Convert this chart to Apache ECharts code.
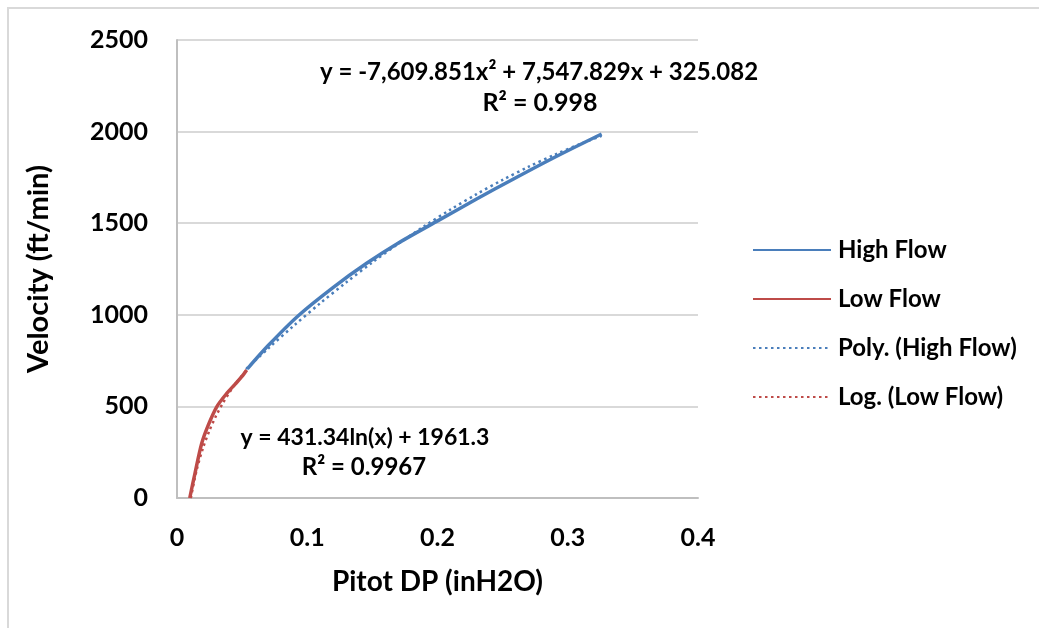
<!DOCTYPE html>
<html>
<head>
<meta charset="utf-8">
<script src="https://cdn.jsdelivr.net/npm/echarts@6/dist/echarts.min.js"></script>
<style>html,body{margin:0;padding:0;background:#fff}#c{width:1039px;height:628px}</style>
</head>
<body>
<div id="c"></div>
<script>
var highFlowX = [0.054, 0.070, 0.0931, 0.120, 0.1456, 0.170, 0.1994, 0.230, 0.258, 0.290, 0.326];
var highFlowY = [705, 832, 995, 1150, 1281, 1392, 1510, 1632, 1740, 1860, 1987];
var lowFlowX = [0.0098, 0.0138, 0.019, 0.024, 0.0305, 0.0382, 0.0445, 0.0497, 0.0535];
var lowFlowY = [0, 135, 299, 398, 498, 571, 620, 662, 699];
// Trendline samples (values of the shown fitted equations)
var polyX = [0.053, 0.07, 0.09, 0.11, 0.13, 0.15, 0.17, 0.19, 0.21, 0.23, 0.25, 0.27, 0.29, 0.31, 0.326];
var polyY = [703.7, 816.1, 942.7, 1063.3, 1177.7, 1286.0, 1388.3, 1484.5, 1574.5, 1658.5, 1736.4, 1808.2, 1874.0, 1933.6, 1976.9];
var logX = [0.0106, 0.015, 0.02, 0.025, 0.03, 0.035, 0.04, 0.045, 0.05, 0.0535];
var logY = [0.0, 149.8, 273.9, 370.1, 448.8, 515.3, 572.9, 623.7, 669.1, 698.3];
var seriesNames = ['High Flow', 'Low Flow', 'Poly. (High Flow)', 'Log. (Low Flow)'];
var polyLabel = ['y = -7,609.851x\u00B2 + 7,547.829x + 325.082', 'R\u00B2 = 0.998'];
var logLabel = ['y = 431.34ln(x) + 1961.3', 'R\u00B2 = 0.9967'];

function pairs(xs, ys) { return xs.map(function (x, i) { return [x, ys[i]]; }); }

var FONT = 'Lato';
var BLUE = '#4A7EBB', RED = '#BE4B48';
var chart = echarts.init(document.getElementById('c'), null, { renderer: 'canvas' });
chart.setOption({
  animation: false,
  backgroundColor: '#fff',
  textStyle: { fontFamily: FONT, fontWeight: 'bold', color: '#000' },
  grid: { left: 177, right: 341, top: 40, bottom: 130 },
  xAxis: {
    type: 'value', min: 0, max: 0.4, interval: 0.1,
    name: 'Pitot DP (inH2O)', nameLocation: 'middle', nameGap: 70,
    nameTextStyle: { fontFamily: FONT, fontWeight: 'bold', fontSize: 28, color: '#000' },
    axisLine: { show: true, lineStyle: { color: '#bfbfbf', width: 2 } },
    axisTick: { show: false },
    splitLine: { show: false },
    axisLabel: { margin: 27, fontFamily: FONT, fontWeight: 'bold', fontSize: 25, color: '#000' }
  },
  yAxis: {
    type: 'value', min: 0, max: 2500, interval: 500,
    name: 'Velocity (ft/min)', nameLocation: 'middle', nameGap: 124, nameRotate: 90,
    nameTextStyle: { fontFamily: FONT, fontWeight: 'bold', fontSize: 29, color: '#000' },
    axisLine: { show: true, lineStyle: { color: '#bfbfbf', width: 2 } },
    axisTick: { show: false },
    splitLine: { show: true, lineStyle: { color: '#d9d9d9', width: 2 } },
    axisLabel: { margin: 29, fontFamily: FONT, fontWeight: 'bold', fontSize: 25, color: '#000',
      formatter: function (v) { return String(v); } }
  },
  legend: {
    orient: 'vertical', left: 747, top: 233,
    itemWidth: 78, itemHeight: 14, itemGap: 25,
    data: seriesNames,
    itemStyle: { opacity: 0 },
    textStyle: { fontFamily: FONT, fontWeight: 'bold', fontSize: 24, color: '#000', padding: [0, 0, 0, 2] }
  },
  series: [
    { name: seriesNames[0], type: 'line', data: pairs(highFlowX, highFlowY), symbol: 'none', smooth: 0.3,
      lineStyle: { color: BLUE, width: 3.5 }, itemStyle: { color: BLUE }, z: 2 },
    { name: seriesNames[1], type: 'line', data: pairs(lowFlowX, lowFlowY), symbol: 'none', smooth: 0.3,
      lineStyle: { color: RED, width: 3.5 }, itemStyle: { color: RED }, z: 2 },
    { name: seriesNames[2], type: 'line', data: pairs(polyX, polyY), symbol: 'none', smooth: 0.3,
      lineStyle: { color: BLUE, width: 2.5, type: [2.5, 3.5] }, itemStyle: { color: BLUE }, z: 3 },
    { name: seriesNames[3], type: 'line', data: pairs(logX, logY), symbol: 'none', smooth: 0.3,
      lineStyle: { color: RED, width: 2.5, type: [2.5, 3.5] }, itemStyle: { color: RED }, z: 3 }
  ],
  graphic: [
    { type: 'rect', shape: { x: 8, y: 8, width: 1100, height: 700 }, style: { fill: 'none', stroke: '#d9d9d9', lineWidth: 2 }, z: 100 },
    { type: 'text', x: 539, y: 72, style: { text: polyLabel[0], font: 'bold 24px ' + FONT, fill: '#000', align: 'center', verticalAlign: 'middle' }, z: 100 },
    { type: 'text', x: 540, y: 103, style: { text: polyLabel[1], font: 'bold 25px ' + FONT, fill: '#000', align: 'center', verticalAlign: 'middle' }, z: 100 },
    { type: 'text', x: 365, y: 438, style: { text: logLabel[0], font: 'bold 23px ' + FONT, fill: '#000', align: 'center', verticalAlign: 'middle' }, z: 100 },
    { type: 'text', x: 364, y: 467, style: { text: logLabel[1], font: 'bold 24px ' + FONT, fill: '#000', align: 'center', verticalAlign: 'middle' }, z: 100 }
  ]
});
</script>
</body>
</html>
